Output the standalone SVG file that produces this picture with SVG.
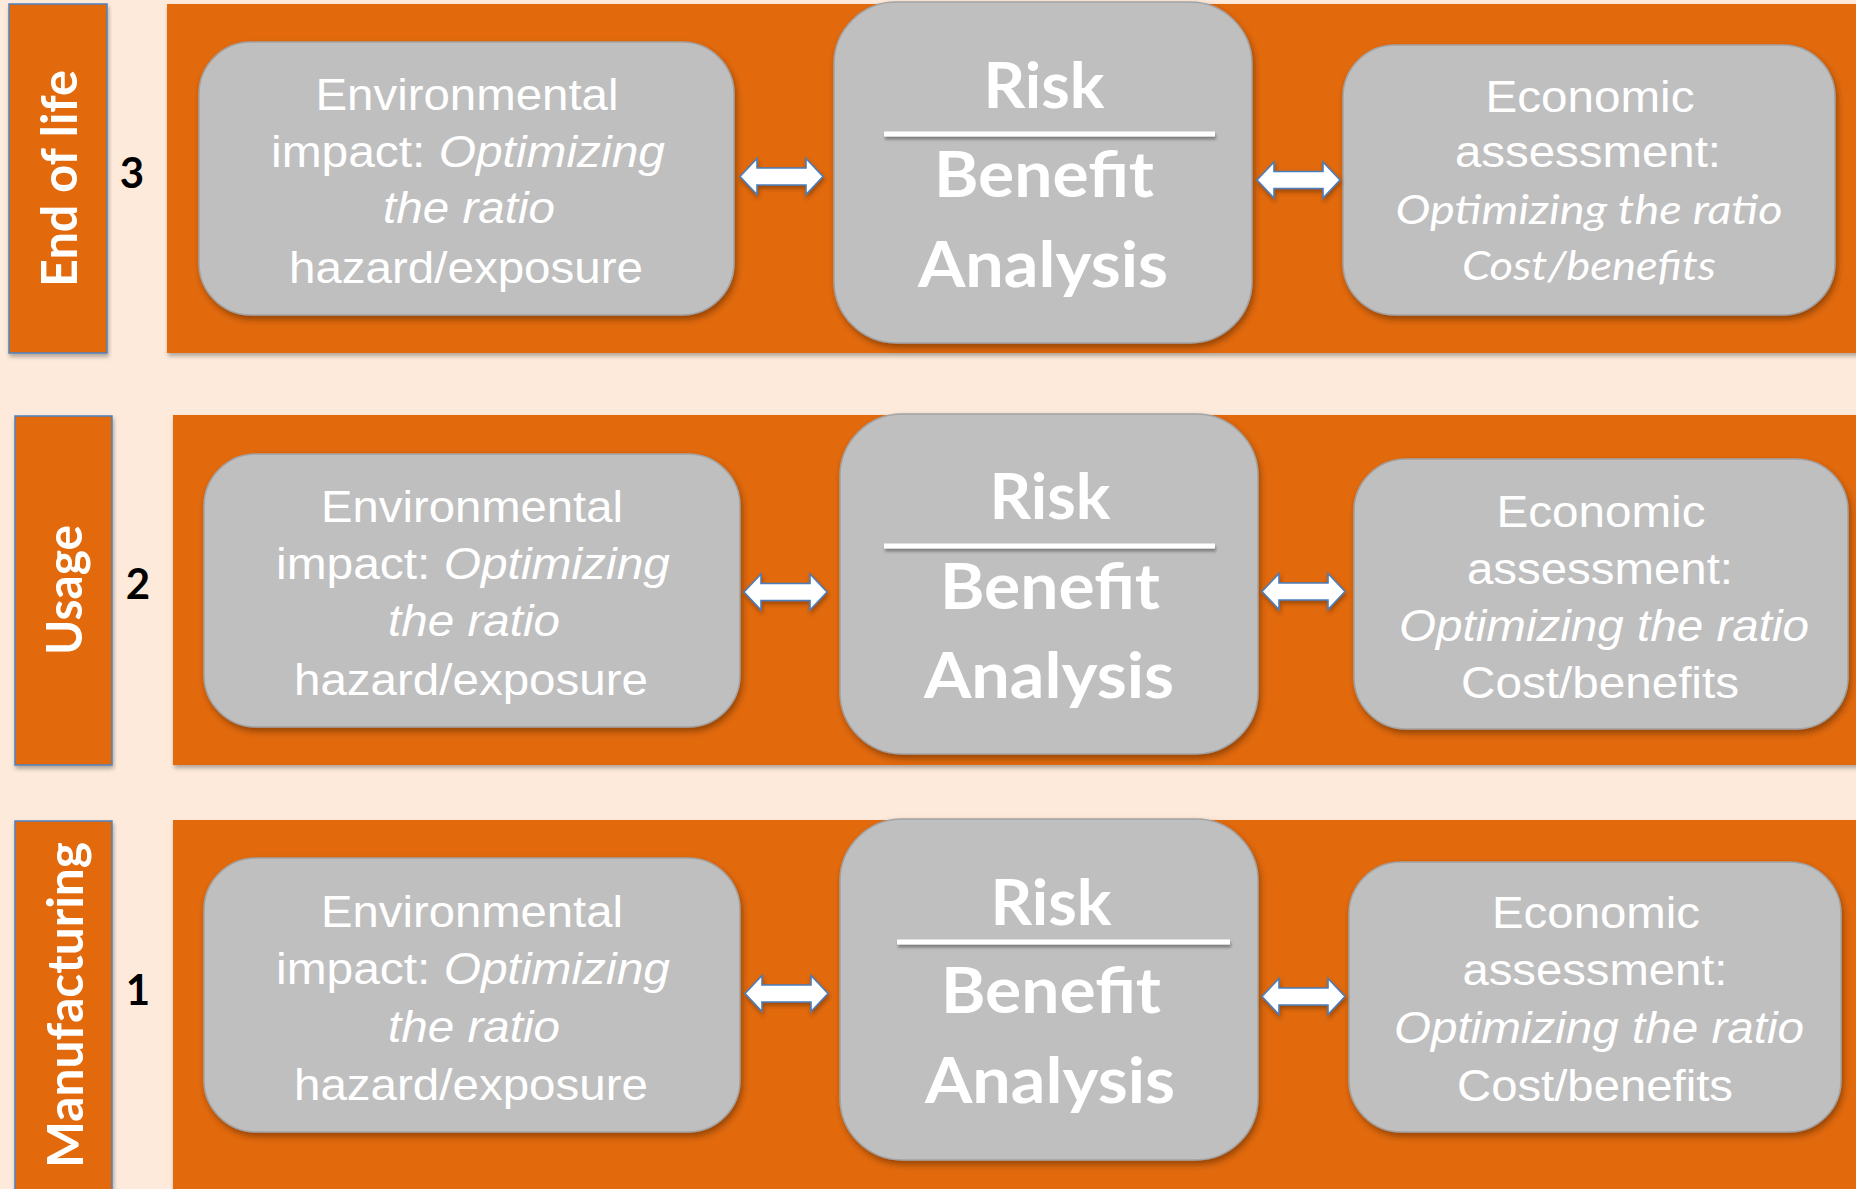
<svg xmlns="http://www.w3.org/2000/svg" width="1856" height="1189" viewBox="0 0 1856 1189">
  <style>
    .bg { fill: #FDEADA; }
    .panel { fill: #E26B0A; filter: url(#panelShadow); }
    .stage { fill: #E26B0A; stroke: #4F81BD; stroke-width: 1.5; filter: url(#panelShadow); }
    .stage-label { font-family: Lato, "Open Sans", sans-serif; font-weight: 700; font-size: 50px; fill: #FFFFFF; text-anchor: middle; }
    .num { font-family: Lato, "Open Sans", sans-serif; font-weight: 700; font-size: 42px; fill: #000000; text-anchor: middle; }
    .box { fill: #BFBFBF; stroke: #A3A3A3; stroke-width: 1.5; filter: url(#boxShadow); }
    .txt { font-family: "Liberation Sans", Arial, sans-serif; font-size: 45px; fill: #FFFFFF; text-anchor: middle; }
    .it { font-style: italic; }
    .cal-it { font-family: Lato, "Open Sans", sans-serif; font-style: italic; font-size: 41px; fill: #FFFFFF; text-anchor: middle; }
    .rba { font-family: Lato, "Open Sans", sans-serif; font-weight: 700; font-size: 64px; fill: #FFFFFF; text-anchor: middle; }
    .frac { fill: #FFFFFF; filter: url(#lineShadow); }
    .arrow { fill: #FFFFFF; stroke: #4A7EBB; stroke-width: 1.6; stroke-linejoin: miter; filter: url(#arrowShadow); }
  </style>
  <defs>
    <filter id="boxShadow" x="-10%" y="-10%" width="125%" height="130%">
      <feDropShadow dx="2" dy="4" stdDeviation="3" flood-color="#5A2A00" flood-opacity="0.55"/>
    </filter>
    <filter id="panelShadow" x="-5%" y="-5%" width="110%" height="115%">
      <feDropShadow dx="1" dy="3" stdDeviation="2" flood-color="#000000" flood-opacity="0.3"/>
    </filter>
    <filter id="lineShadow" x="-5%" y="-200%" width="110%" height="600%">
      <feDropShadow dx="1" dy="3" stdDeviation="1.5" flood-color="#000000" flood-opacity="0.35"/>
    </filter>
    <filter id="arrowShadow" x="-20%" y="-30%" width="140%" height="170%">
      <feDropShadow dx="1" dy="3" stdDeviation="2" flood-color="#5A2A00" flood-opacity="0.5"/>
    </filter>
    <!-- double-headed block arrow, origin at the left tip -->
    <path id="dblArrow" d="M0,0 L17,-18 L17,-8.5 L66,-8.5 L66,-18 L83,0 L66,18 L66,8.5 L17,8.5 L17,18 Z"/>
  </defs>

  <rect class="bg" x="0" y="0" width="1856" height="1189"/>

  <!-- ===== Stage 3: End of life ===== -->
  <g id="stage3">
    <rect class="panel" x="167" y="4" width="1700" height="349"/>
    <rect class="stage" x="9" y="4" width="98" height="349"/>
    <text class="stage-label" transform="translate(77,178.5) rotate(-90)" textLength="217" lengthAdjust="spacingAndGlyphs">End of life</text>
    <text class="num" x="132" y="188">3</text>
  </g>
  <g id="env3">
    <rect class="box" x="199" y="42" width="535" height="273" rx="52"/>
    <text class="txt" x="467" y="110" textLength="303" lengthAdjust="spacingAndGlyphs">Environmental</text>
    <text class="txt" x="468" y="167" textLength="394" lengthAdjust="spacingAndGlyphs">impact: <tspan class="it">Optimizing</tspan></text>
    <text class="txt it" x="469" y="223" textLength="172" lengthAdjust="spacingAndGlyphs">the ratio</text>
    <text class="txt" x="466" y="283" textLength="354" lengthAdjust="spacingAndGlyphs">hazard/exposure</text>
  </g>
  <g id="rba3">
    <rect class="box" x="834" y="2" width="418" height="341" rx="62"/>
    <text class="rba" x="1044" y="108" textLength="121" lengthAdjust="spacingAndGlyphs">Risk</text>
    <rect class="frac" x="884" y="131.5" width="331" height="5"/>
    <text class="rba" x="1044" y="197" textLength="220" lengthAdjust="spacingAndGlyphs">Benefit</text>
    <text class="rba" x="1043" y="287" textLength="250" lengthAdjust="spacingAndGlyphs">Analysis</text>
  </g>
  <g id="eco3">
    <rect class="box" x="1343" y="45" width="492" height="270" rx="52"/>
    <text class="txt" x="1590" y="112" textLength="209" lengthAdjust="spacingAndGlyphs">Economic</text>
    <text class="txt" x="1588" y="167" textLength="266" lengthAdjust="spacingAndGlyphs">assessment:</text>
    <text class="cal-it" x="1589" y="224" textLength="387" lengthAdjust="spacingAndGlyphs">Optimizing the ratio</text>
    <text class="cal-it" x="1589" y="280" textLength="254" lengthAdjust="spacingAndGlyphs">Cost/benefits</text>
  </g>

  <!-- ===== Stage 2: Usage ===== -->
  <g id="stage2">
    <rect class="panel" x="173" y="415" width="1700" height="350"/>
    <rect class="stage" x="15" y="416" width="97" height="349"/>
    <text class="stage-label" transform="translate(82,590) rotate(-90)" textLength="130" lengthAdjust="spacingAndGlyphs">Usage</text>
    <text class="num" x="138" y="599">2</text>
  </g>
  <g id="env2">
    <rect class="box" x="204" y="454" width="536" height="273" rx="52"/>
    <text class="txt" x="472" y="522" textLength="302" lengthAdjust="spacingAndGlyphs">Environmental</text>
    <text class="txt" x="473" y="579" textLength="394" lengthAdjust="spacingAndGlyphs">impact: <tspan class="it">Optimizing</tspan></text>
    <text class="txt it" x="474" y="636" textLength="172" lengthAdjust="spacingAndGlyphs">the ratio</text>
    <text class="txt" x="471" y="695" textLength="354" lengthAdjust="spacingAndGlyphs">hazard/exposure</text>
  </g>
  <g id="rba2">
    <rect class="box" x="840" y="414" width="418" height="340" rx="62"/>
    <text class="rba" x="1050" y="519" textLength="121" lengthAdjust="spacingAndGlyphs">Risk</text>
    <rect class="frac" x="884" y="543.5" width="331" height="5"/>
    <text class="rba" x="1050" y="609" textLength="220" lengthAdjust="spacingAndGlyphs">Benefit</text>
    <text class="rba" x="1049" y="698" textLength="250" lengthAdjust="spacingAndGlyphs">Analysis</text>
  </g>
  <g id="eco2">
    <rect class="box" x="1354" y="459" width="494" height="270" rx="52"/>
    <text class="txt" x="1601" y="527" textLength="209" lengthAdjust="spacingAndGlyphs">Economic</text>
    <text class="txt" x="1600" y="584" textLength="266" lengthAdjust="spacingAndGlyphs">assessment:</text>
    <text class="txt it" x="1604" y="641" textLength="410" lengthAdjust="spacingAndGlyphs">Optimizing the ratio</text>
    <text class="txt" x="1600" y="698" textLength="278" lengthAdjust="spacingAndGlyphs">Cost/benefits</text>
  </g>

  <!-- ===== Stage 1: Manufacturing ===== -->
  <g id="stage1">
    <rect class="panel" x="173" y="820" width="1700" height="380"/>
    <rect class="stage" x="15" y="821" width="97" height="380"/>
    <text class="stage-label" transform="translate(83,1005) rotate(-90)" textLength="326" lengthAdjust="spacingAndGlyphs">Manufacturing</text>
    <text class="num" x="138" y="1005">1</text>
  </g>
  <g id="env1">
    <rect class="box" x="204" y="858" width="536" height="274" rx="52"/>
    <text class="txt" x="472" y="927" textLength="302" lengthAdjust="spacingAndGlyphs">Environmental</text>
    <text class="txt" x="473" y="984" textLength="394" lengthAdjust="spacingAndGlyphs">impact: <tspan class="it">Optimizing</tspan></text>
    <text class="txt it" x="474" y="1042" textLength="172" lengthAdjust="spacingAndGlyphs">the ratio</text>
    <text class="txt" x="471" y="1100" textLength="354" lengthAdjust="spacingAndGlyphs">hazard/exposure</text>
  </g>
  <g id="rba1">
    <rect class="box" x="840" y="819" width="418" height="341" rx="62"/>
    <text class="rba" x="1051" y="925" textLength="121" lengthAdjust="spacingAndGlyphs">Risk</text>
    <rect class="frac" x="897" y="939.5" width="333" height="5"/>
    <text class="rba" x="1051" y="1013" textLength="220" lengthAdjust="spacingAndGlyphs">Benefit</text>
    <text class="rba" x="1050" y="1103" textLength="250" lengthAdjust="spacingAndGlyphs">Analysis</text>
  </g>
  <g id="eco1">
    <rect class="box" x="1349" y="862" width="492" height="270" rx="52"/>
    <text class="txt" x="1596" y="928" textLength="208" lengthAdjust="spacingAndGlyphs">Economic</text>
    <text class="txt" x="1595" y="985" textLength="265" lengthAdjust="spacingAndGlyphs">assessment:</text>
    <text class="txt it" x="1599" y="1043" textLength="410" lengthAdjust="spacingAndGlyphs">Optimizing the ratio</text>
    <text class="txt" x="1595" y="1101" textLength="276" lengthAdjust="spacingAndGlyphs">Cost/benefits</text>
  </g>

  <!-- ===== Connectors: two-way block arrows ===== -->
  <g id="connectors">
    <use href="#dblArrow" class="arrow" transform="translate(740,176.5)"/>
    <use href="#dblArrow" class="arrow" transform="translate(1257,180)"/>
    <use href="#dblArrow" class="arrow" transform="translate(744,592)"/>
    <use href="#dblArrow" class="arrow" transform="translate(1262,591.5)"/>
    <use href="#dblArrow" class="arrow" transform="translate(745,993.5)"/>
    <use href="#dblArrow" class="arrow" transform="translate(1262,996.5)"/>
  </g>
</svg>
